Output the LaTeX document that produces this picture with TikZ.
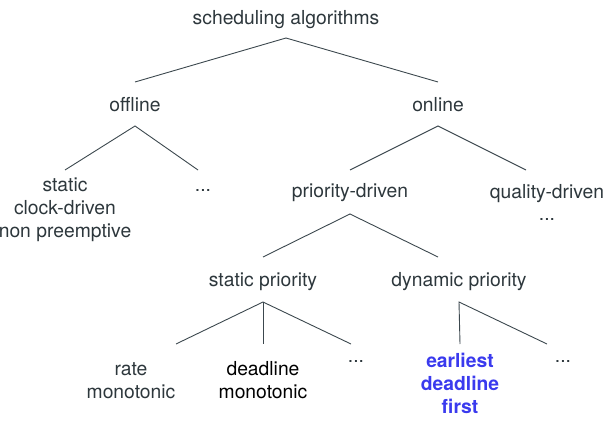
\documentclass[tikz,border=0pt]{standalone}
\usepackage{fontspec}
\setmainfont{TeX Gyre Heros}
\definecolor{txtgray}{RGB}{45,55,60}
\definecolor{edgegray}{RGB}{60,72,78}
\definecolor{edfblue}{RGB}{58,58,238}
\tikzset{
  lbl/.style={anchor=base,align=center,inner sep=0pt,text=txtgray,
    font=\fontsize{19.3}{22.6}\selectfont},
  edge/.style={draw=edgegray,line width=0.9pt}
}
\begin{document}
\begin{tikzpicture}[x=1pt,y=-1pt]
\useasboundingbox (0,0) rectangle (611,425);
% multi-line nodes sit on the baseline of their last line
\node[lbl] (root) at (286,25) {scheduling algorithms};
\node[lbl] (offline) at (135,112) {offline};
\node[lbl] (online) at (438,112) {online};
\node[lbl] (static) at (65,237) {static\\clock-driven\\non preemptive};
\node[lbl] (odots) at (203,192) {...};
\node[lbl] (prio) at (350,198) {priority-driven};
\node[lbl] (qual) at (547,221) {quality-driven\\...};
\node[lbl] (sprio) at (263,287) {static priority};
\node[lbl] (dprio) at (459,287) {dynamic priority};
\node[lbl] (rm) at (131,398) {rate\\monotonic};
\node[lbl,text=black] (dm) at (263,398) {deadline\\monotonic};
\node[lbl] (sdots) at (356,362) {...};
\node[lbl,text=edfblue,font=\fontsize{19.3}{22.6}\selectfont\bfseries] (edf) at (460,413) {earliest\\deadline\\first};
\node[lbl] (ddots) at (563,362) {...};
% root
\draw[edge] ([yshift=30pt]offline.base) -- ([yshift=-13pt]root.base) -- ([yshift=30pt]online.base);
% offline
\draw[edge] ([yshift=67pt]static.base) -- ([yshift=-14pt]offline.base) -- ([shift={(-5pt,22pt)}]odots.base);
% online
\draw[edge] ([yshift=28pt]prio.base) -- ([yshift=-14pt]online.base) -- ([shift={(-21pt,51pt)}]qual.base);
% priority-driven
\draw[edge] ([yshift=30pt]sprio.base) -- ([yshift=-16pt]prio.base) -- ([shift={(-21pt,30pt)}]dprio.base);
% static priority
\draw[edge] ([shift={(45pt,54pt)}]rm.base) -- ([yshift=-15pt]sprio.base) -- ([shift={(-5pt,18pt)}]sdots.base);
\draw[edge] ([yshift=-15pt]sprio.base) -- ([yshift=54pt]dm.base);
% dynamic priority
\draw[edge] ([yshift=69pt]edf.base) -- ([yshift=-15pt]dprio.base) -- ([shift={(-16pt,18pt)}]ddots.base);
\end{tikzpicture}
\end{document}
